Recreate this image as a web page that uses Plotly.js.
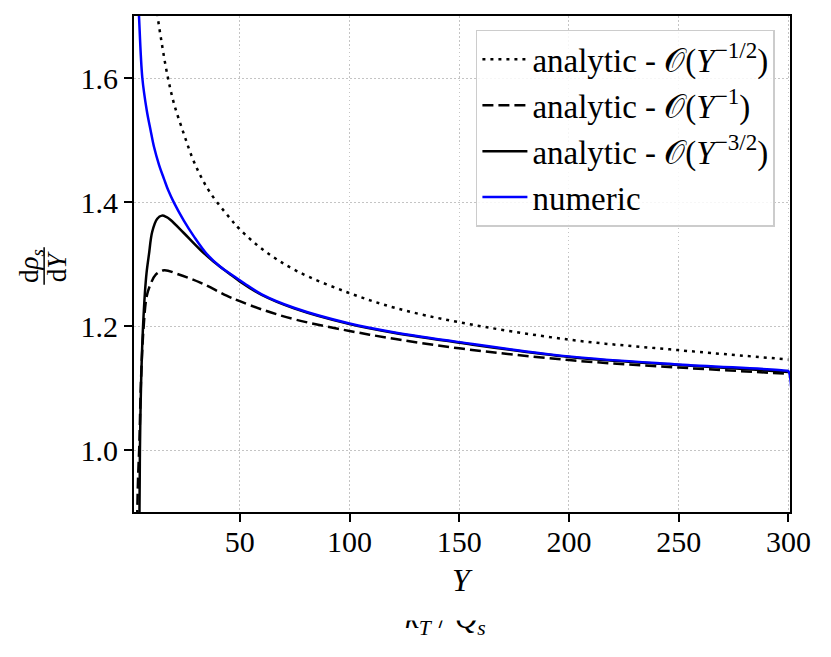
<!DOCTYPE html>
<html>
<head>
<meta charset="utf-8">
<script src="https://cdn.plot.ly/plotly-3.0.1.min.js"></script>
<style>
    body{ margin: 0; background: #FFFFFF; }
    #myScatter{ width: 831px; height: 657px; }
</style>
</head>
<body>
<div id="myScatter"></div>
<script>
// values
var halfX = [12.0, 12.4, 14.5, 17.0, 20.0, 24.5, 28.3, 32.0, 36.7, 45.5, 50.0, 60.6, 75.8, 100, 121, 150, 200, 250, 300];
var halfY = [1.73, 1.705, 1.655, 1.605, 1.559, 1.510, 1.472, 1.443, 1.414, 1.374, 1.356, 1.323, 1.289, 1.253, 1.229, 1.206, 1.178, 1.161, 1.146];

var oneX = [3.2, 3.3, 3.7, 4.2, 5.0, 6.1, 7.6, 9.4, 11.7, 15.5, 21.5, 32.0, 44.0, 50.0, 60.6, 75.8, 100, 121, 150, 200, 250, 300];
var oneY = [0.86, 0.90, 0.96, 1.005, 1.113, 1.194, 1.248, 1.268, 1.283, 1.290, 1.284, 1.270, 1.249, 1.240, 1.226, 1.210, 1.192, 1.179, 1.164, 1.145, 1.133, 1.123];

var threeHalfX = [4.2, 4.4, 4.5, 4.8, 5.2, 5.8, 6.8, 7.5, 8.6, 10.1, 12.4, 14.5, 16.5, 18.5, 24.5, 32.0, 38.0, 45.0, 50.0, 60.0, 75.0, 100, 120, 150, 200, 250, 300];
var threeHalfY = [0.86, 0.95, 1.00, 1.07, 1.13, 1.19, 1.255, 1.285, 1.315, 1.352, 1.373, 1.378, 1.376, 1.371, 1.350, 1.323, 1.304, 1.285, 1.272, 1.250, 1.228, 1.203, 1.189, 1.173, 1.150, 1.137, 1.126];

var numX = [3.7, 4.1, 5.6, 7.6, 9.4, 10.9, 13.2, 15.5, 17.5, 20.0, 24.5, 29.0, 35.0, 41.0, 47.0, 52.0, 60.0, 75.0, 100, 120, 150, 200, 250, 299, 300, 300];
var numY = [1.73, 1.698, 1.600, 1.548, 1.515, 1.489, 1.460, 1.437, 1.418, 1.399, 1.370, 1.345, 1.316, 1.296, 1.281, 1.269, 1.251, 1.229, 1.204, 1.190, 1.174, 1.151, 1.138, 1.128, 1.127, 0.5];

var xTicks = [50, 100, 150, 200, 250, 300];
var yTicks = [1.0, 1.2, 1.4, 1.6];
var yTickText = ["1.0", "1.2", "1.4", "1.6"];

var serif = "Liberation Serif, DejaVu Serif, serif";

var traceHalf = {
    x: halfX,
    y: halfY,
    type: 'scatter',
    mode: 'lines',
    name: 'analytic - 𝒪(<i>Υ</i><sup>−1/2</sup>)',
    line: {color: '#000000', width: 2.5, dash: '3px,5px', shape: 'spline'}
};

var traceOne = {
    x: oneX,
    y: oneY,
    type: 'scatter',
    mode: 'lines',
    name: 'analytic - 𝒪(<i>Υ</i><sup>−1</sup>)',
    line: {color: '#000000', width: 2.5, dash: '11px,5px', shape: 'spline'}
};

var traceThreeHalf = {
    x: threeHalfX,
    y: threeHalfY,
    type: 'scatter',
    mode: 'lines',
    name: 'analytic - 𝒪(<i>Υ</i><sup>−3/2</sup>)',
    line: {color: '#000000', width: 2.5, shape: 'spline'}
};

var traceNum = {
    x: numX,
    y: numY,
    type: 'scatter',
    mode: 'lines',
    name: 'numeric',
    line: {color: '#0000FF', width: 2.5, shape: 'spline'}
};

var data = [traceHalf, traceOne, traceThreeHalf, traceNum];

var axisBase = {
    showline: true,
    mirror: true,
    linecolor: '#000000',
    linewidth: 2,
    ticks: 'outside',
    ticklen: 8,
    tickwidth: 2,
    tickcolor: '#000000',
    showgrid: true,
    gridcolor: '#c4c4c4',
    gridwidth: 1,
    griddash: '1.5px,2.5px',
    zeroline: false,
    tickfont: {family: serif, size: 30, color: '#000000'}
};

var layout = {
    width: 831,
    height: 657,
    margin: {l: 134, r: 41, t: 16, b: 145},
    paper_bgcolor: '#FFFFFF',
    plot_bgcolor: '#FFFFFF',
    showlegend: true,
    legend: {
        x: 0.977, xanchor: 'right',
        y: 0.972, yanchor: 'top',
        bgcolor: 'rgba(255,255,255,0.85)',
        bordercolor: '#cccccc',
        borderwidth: 1.5,
        itemwidth: 45,
        font: {family: serif, size: 33, color: '#000000'},
        tracegroupgap: 0
    },
    xaxis: Object.assign({}, axisBase, {
        range: [1.8, 300.7],
        tickvals: xTicks,
        ticktext: xTicks.map(String),
        ticklabelstandoff: -6
    }),
    yaxis: Object.assign({}, axisBase, {
        range: [0.9, 1.7],
        tickvals: yTicks,
        ticktext: yTickText
    }),
    shapes: [
        // fraction bar of the y label
        {type: 'line', xref: 'paper', yref: 'paper',
            x0: -0.137, x1: -0.137, y0: 0.534, y1: 0.458,
            line: {color: '#000000', width: 1.5}}
    ],
    annotations: [
        // label of the panel below, cut off by the frame
        {xref: 'paper', yref: 'paper', x: 0.475, y: -0.2177, xanchor: 'center', yanchor: 'middle',
            showarrow: false, text: '<i>k</i><sub><i>T</i></sub> / <i>Q</i><sub><i>s</i></sub>',
            font: {family: serif, size: 31, color: '#000000'}},
        {xref: 'paper', yref: 'paper', x: 0.5, y: -0.1935, xanchor: 'center', yanchor: 'middle',
            showarrow: false, text: '.', width: 320, height: 22, bgcolor: '#FFFFFF',
            font: {family: serif, size: 10, color: '#FFFFFF'}},
        {xref: 'paper', yref: 'paper', x: 0.5, y: -0.137, xanchor: 'center', yanchor: 'middle',
            showarrow: false, text: '<i>Υ</i>',
            font: {family: serif, size: 32, color: '#000000'}},
        {xref: 'paper', yref: 'paper', x: -0.157, y: 0.496, xanchor: 'center', yanchor: 'middle',
            showarrow: false, textangle: -90, text: 'd<i>ρ</i><sub><i>s</i></sub>',
            font: {family: serif, size: 27, color: '#000000'}},
        {xref: 'paper', yref: 'paper', x: -0.117, y: 0.496, xanchor: 'center', yanchor: 'middle',
            showarrow: false, textangle: -90, text: 'd<i>Υ</i>',
            font: {family: serif, size: 27, color: '#000000'}}
    ]
};

Plotly.newPlot('myScatter', data, layout, {displayModeBar: false, staticPlot: true});
</script>
</body>
</html>
